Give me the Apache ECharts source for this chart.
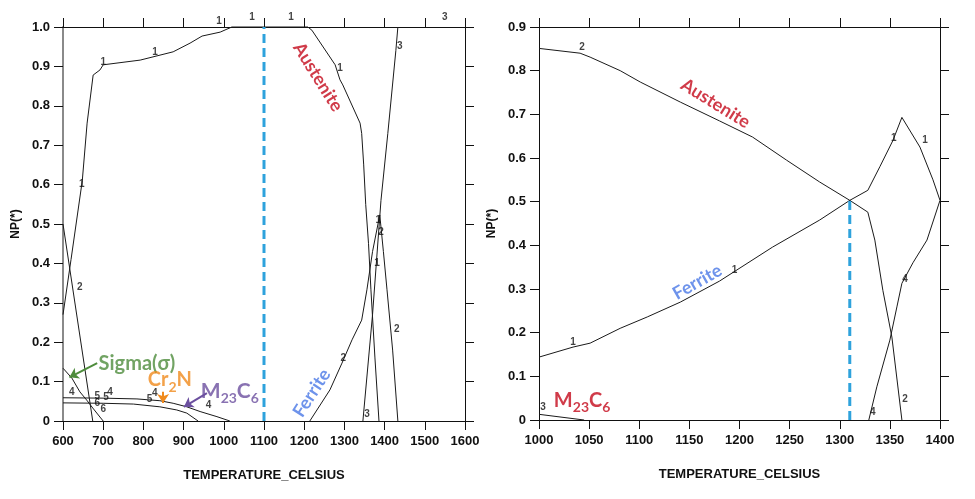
<!DOCTYPE html>
<html><head><meta charset="utf-8">
<script src="https://cdn.jsdelivr.net/npm/echarts@6/dist/echarts.min.js"></script>
<style>html,body{margin:0;padding:0;background:#fff}#c{width:975px;height:499px}</style>
</head><body><div id="c"></div>
<script>
// ---------- Left panel data (T in °C, NP) ----------
var leftAustenite = [[600,0.27],[620,0.41],[648,0.61],[660,0.756],[675,0.878],[692,0.891],[700,0.904],[792,0.916],[874,0.937],[916,0.959],[946,0.977],[991,0.987],[1020,1.0],[1209,1.0],[1219,0.992],[1277,0.904],[1289,0.866],[1296,0.853],[1339,0.756],[1343,0.73],[1348,0.65],[1353,0.55],[1360,0.45],[1366,0.333],[1376,0.16],[1386,0]];
var leftFerriteLow = [[600,0.5],[674,0]];
var leftFerrite = [[1214,0],[1264,0.079],[1294,0.147],[1319,0.206],[1343,0.256],[1356,0.333],[1370,0.43],[1388,0.523],[1397,0.43],[1406,0.333],[1420,0.18],[1433,0]];
var leftLiquid = [[1346,0],[1370,0.27],[1391,0.56],[1408,0.73],[1428,0.94],[1433,1.0]];
var leftSigma = [[600,0.134],[622,0.109],[642,0.074],[659,0.053],[674,0.033],[692,0.010],[700,0]];
var leftM23C6 = [[600,0.059],[700,0.058],[784,0.056],[841,0.0515],[874,0.045],[908,0.036],[941,0.024],[983,0.011],[1015,0]];
var leftCr2N = [[600,0.046],[700,0.045],[775,0.043],[841,0.036],[883,0.028],[908,0.02],[936,0]];
var leftMarkerT = 1100;
var leftCurveLabels = [[647,0.60,'1'],[700,0.91,'1'],[829,0.935,'1'],[988,1.015,'1'],[1070,1.025,'1'],[1167,1.025,'1'],[1550,1.025,'3'],[642,0.34,'2'],[1289,0.895,'1'],[1438,0.95,'3'],[1297,0.16,'2'],[1356,0.018,'3'],[1430,0.233,'2'],[1384,0.51,'1'],[1391,0.48,'2'],[1381,0.40,'1'],[622,0.073,'4'],[685,0.064,'5'],[707,0.061,'5'],[717,0.074,'4'],[685,0.046,'6'],[700,0.029,'6'],[828,0.071,'4'],[815,0.056,'5'],[962,0.04,'4']];

// ---------- Right panel data ----------
var rightAustenite = [[1000,0.851],[1041,0.84],[1051,0.831],[1081,0.80],[1101,0.774],[1141,0.728],[1180,0.685],[1213,0.648],[1247,0.595],[1280,0.545],[1310,0.503],[1328,0.476],[1335,0.412],[1343,0.297],[1352,0.19],[1362,0]];
var rightFerrite = [[1000,0.144],[1034,0.167],[1051,0.176],[1081,0.21],[1108,0.236],[1141,0.27],[1180,0.318],[1233,0.396],[1280,0.458],[1310,0.503],[1328,0.526],[1340,0.58],[1353,0.64],[1362,0.693],[1380,0.625],[1393,0.55],[1400,0.503]];
var rightLiquid = [[1329,0],[1337,0.076],[1350,0.183],[1357,0.259],[1362,0.313],[1373,0.36],[1387,0.412],[1400,0.503]];
var rightM23C6 = [[1000,0.013],[1045,0]];
var rightMarkerT = 1310;
var rightMarkerTop = 0.505;
var rightCurveLabels = [[1043,0.853,'2'],[1354,0.645,'1'],[1385,0.64,'1'],[1034,0.178,'1'],[1195,0.342,'1'],[1004,0.03,'3'],[1365,0.322,'4'],[1333,0.018,'4'],[1365,0.048,'2']];

// ---------- axis ticks ----------
var leftXTicks = {min:600,max:1600,interval:100};
var leftYTicks = {min:0,max:1.0,interval:0.1};
var rightXTicks = {min:1000,max:1400,interval:50};
var rightYTicks = {min:0,max:0.9,interval:0.1};

var chart = echarts.init(document.getElementById('c'));
var FONT = 'Liberation Sans';
var LFONT = 'Lato';

function yFmt(v){ return v===0 ? '0' : v.toFixed(1); }
function xFmt(v){ return String(Math.round(v)); }

function mkX(g, t, showLabel, pos){
  return {type:'value', gridIndex:g, min:t.min, max:t.max, interval:t.interval, position:pos,
    axisLine:{show:true, onZero:false, lineStyle:{color:'#111',width:1}},
    axisTick:{show:true, length:9, lineStyle:{color:'#111'}},
    axisLabel:{show:showLabel, margin:14, color:'#111', fontFamily:FONT, fontWeight:'bold', fontSize:13, formatter:xFmt},
    splitLine:{show:false},
    name: showLabel ? 'TEMPERATURE_CELSIUS' : '', nameLocation:'middle', nameGap:48,
    nameTextStyle:{fontFamily:FONT, fontWeight:'bold', fontSize:13, color:'#111'}};
}
function mkY(g, t, showLabel, pos, lineColor, lineWidth){
  return {type:'value', gridIndex:g, min:t.min, max:t.max, interval:t.interval, position:pos,
    axisLine:{show:true, onZero:false, lineStyle:{color:lineColor,width:lineWidth}},
    axisTick:{show:true, length:9, lineStyle:{color:'#111'}},
    axisLabel:{show:showLabel, margin:13, color:'#111', fontFamily:FONT, fontWeight:'bold', fontSize:13, formatter:yFmt},
    splitLine:{show:false},
    name: showLabel ? 'NP(*)' : '', nameLocation:'middle', nameGap:41,
    nameTextStyle:{fontFamily:FONT, fontWeight:'bold', fontSize:12, color:'#111'}};
}

function curve(data, xi, yi){
  return {type:'line', xAxisIndex:xi, yAxisIndex:yi, data:data, symbol:'none', silent:true,
    lineStyle:{color:'#1a1a1a', width:1}, clip:false, z:3};
}
function labels(arr, xi, yi){
  return {type:'scatter', xAxisIndex:xi, yAxisIndex:yi, symbolSize:0, clip:false, silent:true, z:6,
    data: arr.map(function(d){ return [d[0], d[1], d[2]]; }),
    label:{show:true, position:'inside', formatter:function(p){return p.data[2];},
      color:'#111', fontFamily:FONT, fontSize:10, fontWeight:'bold'}};
}
function dashed(t, top, xi, yi){
  return {type:'line', xAxisIndex:xi, yAxisIndex:yi, data:[[t,0],[t,top]], symbol:'none', silent:true,
    lineStyle:{color:'#2ea2dc', width:3, type:[9,5]}, z:4};
}

function richSub(color, size){
  var sub = Math.round(size*0.68);
  var L = size + 4;
  return {
    a:{color:color, fontFamily:LFONT, fontWeight:'bold', fontSize:size, lineHeight:L, verticalAlign:'top'},
    s:{color:color, fontFamily:LFONT, fontWeight:'bold', fontSize:sub, lineHeight:L, verticalAlign:'bottom'}
  };
}
function annot(items, xi, yi){
  return {type:'scatter', xAxisIndex:xi, yAxisIndex:yi, symbolSize:0, clip:false, silent:true, z:7,
    data: items.map(function(it){
      return {value:[it.x, it.y], label:{show:true, position:'inside', formatter:it.text, rotate:it.rot||0,
        color:it.color, fontFamily:LFONT, fontWeight:'bold', fontSize:it.size, rich:richSub(it.color, it.size)}};
    })};
}
function arrows(items, xi, yi){
  return {type:'scatter', xAxisIndex:xi, yAxisIndex:yi, data:[], silent:true, z:7,
    markLine:{silent:true, symbol:['none','arrow'], symbolSize:9, animation:false, label:{show:false},
      data: items.map(function(a){
        return [{coord:a.from, lineStyle:{color:a.color, width:2, type:'solid'}}, {coord:a.to}];
      })}};
}

var leftAnnots = [
  {text:'Austenite', x:1234, y:0.873, rot:-58, color:'#c40a1c', size:18},
  {text:'Ferrite', x:1219, y:0.071, rot:57, color:'#4a78e6', size:18},
  {text:'Sigma(σ)', x:784, y:0.147, color:'#4e8c3c', size:20},
  {text:'{a|Cr}{s|2}{a|N}', x:866, y:0.099, color:'#f08a1c', size:20},
  {text:'{a|M}{s|23}{a|C}{s|6}', x:1015, y:0.071, color:'#6b4f9f', size:21}
];
var rightAnnots = [
  {text:'Austenite', x:1176, y:0.725, rot:-31.7, color:'#c40a1c', size:18},
  {text:'Ferrite', x:1158, y:0.316, rot:29.5, color:'#4a78e6', size:18},
  {text:'{a|M}{s|23}{a|C}{s|6}', x:1043, y:0.041, color:'#c40a1c', size:20}
];
var leftArrows = [
  {from:[685,0.147], to:[616,0.111], color:'#4e8c3c'},
  {from:[849,0.074], to:[849,0.046], color:'#f08a1c'},
  {from:[958,0.071], to:[901,0.036], color:'#6b4f9f'}
];

var option = {
  animation:false,
  backgroundColor:'#fff',
  grid:[
    {left:63, top:27, width:402, height:394},
    {left:539, top:27, width:401, height:393}
  ],
  xAxis:[
    mkX(0, leftXTicks, true, 'bottom'),
    mkX(0, leftXTicks, false, 'top'),
    mkX(1, rightXTicks, true, 'bottom'),
    mkX(1, rightXTicks, false, 'top')
  ],
  yAxis:[
    mkY(0, leftYTicks, true, 'left', '#8a8a8a', 2),
    mkY(0, leftYTicks, false, 'right', '#111', 1),
    mkY(1, rightYTicks, true, 'left', '#111', 1),
    mkY(1, rightYTicks, false, 'right', '#111', 1)
  ],
  series:[
    curve(leftAustenite,0,0), curve(leftFerriteLow,0,0), curve(leftFerrite,0,0), curve(leftLiquid,0,0),
    curve(leftSigma,0,0), curve(leftM23C6,0,0), curve(leftCr2N,0,0),
    dashed(leftMarkerT, 1.0, 0, 0),
    labels(leftCurveLabels,0,0),
    annot(leftAnnots,0,0),
    arrows(leftArrows,0,0),
    curve(rightAustenite,2,2), curve(rightFerrite,2,2), curve(rightLiquid,2,2), curve(rightM23C6,2,2),
    dashed(rightMarkerT, rightMarkerTop, 2, 2),
    labels(rightCurveLabels,2,2),
    annot(rightAnnots,2,2)
  ]
};
chart.setOption(option);
</script></body></html>
